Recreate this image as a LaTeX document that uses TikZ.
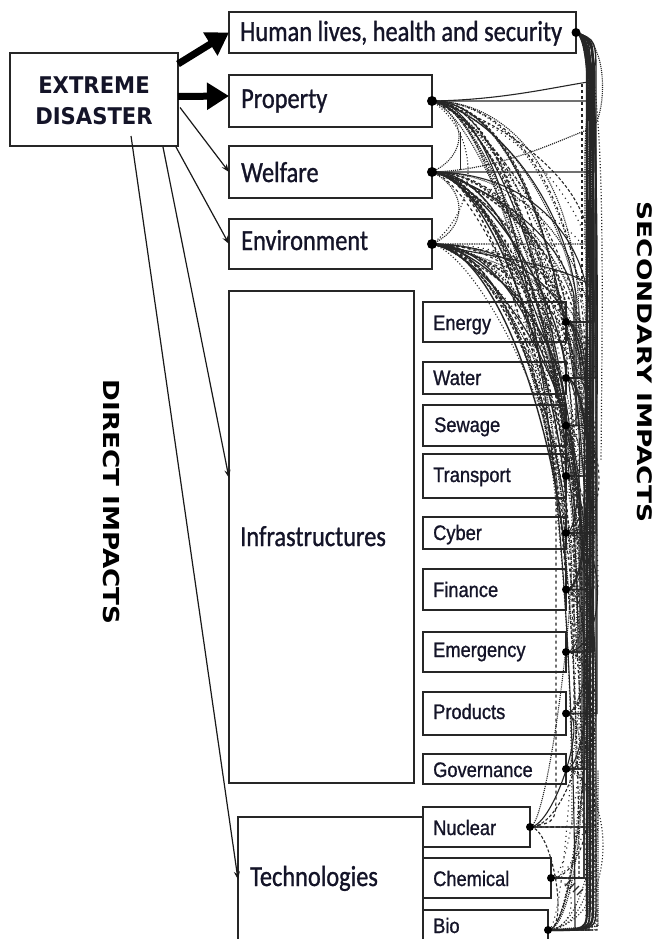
\documentclass[tikz,border=0pt]{standalone}
\usepackage{fontspec}
\setmainfont{Carlito}
\newfontfamily\mainf[FakeStretch=0.84,FakeBold=1]{Carlito}
\newfontfamily\smallf[FakeStretch=0.87,FakeBold=1]{Liberation Sans}
\newfontfamily\boldf[FakeStretch=0.92]{DejaVu Sans}
\newfontfamily\sidef[FakeStretch=1.19]{DejaVu Sans}
\newfontfamily\sideg[FakeStretch=1.32]{DejaVu Sans}
\usetikzlibrary{arrows.meta,calc}
\definecolor{txt}{RGB}{20,20,40}
\begin{document}
\begin{tikzpicture}[x=1pt,y=-1pt,
  box/.style={draw=black!85, line width=1.5pt, inner sep=0pt, outer sep=0pt, anchor=north west},
  lbl/.style={anchor=base west, inner sep=0pt, text=txt, font=\mainf\fontsize{29}{31}\selectfont},
  slbl/.style={anchor=base west, inner sep=0pt, text=txt, font=\smallf\fontsize{21}{23}\selectfont},
  side/.style={rotate=-90, inner sep=0pt, text=black, font=\sidef\bfseries\fontsize{22}{24}\selectfont},
  thick arrow/.style={line width=7pt, black, -{Triangle[length=22pt,width=26pt]}},
  thin arrow/.style={line width=1.2pt, black!90, -{Stealth[length=8pt,width=6pt]}},
  sec/.style={line width=1.1pt, black!85},
  pat/.code={\ifcase#1\relax\tikzset{solid}\or\tikzset{densely dotted}\or\tikzset{dashed}\or\tikzset{dotted}\or\tikzset{densely dashed}\or\tikzset{loosely dotted}\else\tikzset{solid}\fi},
]
\useasboundingbox (0,0) rectangle (658,939);
\fill[white] (0,0) rectangle (658,939);

% ---------- boxes ----------
\node[box,minimum width=168pt,minimum height=93pt] (ED) at (10,53) {};
\node[box,minimum width=347pt,minimum height=41pt] (H) at (229,12) {};
\node[box,minimum width=203pt,minimum height=52pt] (P) at (229,75) {};
\node[box,minimum width=203pt,minimum height=52pt] (W) at (229,146) {};
\node[box,minimum width=203pt,minimum height=50pt] (En) at (229,219) {};
\node[box,minimum width=185pt,minimum height=492pt] (Inf) at (229,291) {};
\node[box,minimum width=185pt,minimum height=135pt] (Tech) at (238,817) {};
\node[box,minimum width=143pt,minimum height=40pt] (Energy) at (423,302) {};
\node[box,minimum width=143pt,minimum height=32pt] (Water) at (423,362) {};
\node[box,minimum width=143pt,minimum height=41pt] (Sewage) at (423,405) {};
\node[box,minimum width=143pt,minimum height=44pt] (Transport) at (423,454) {};
\node[box,minimum width=143pt,minimum height=32pt] (Cyber) at (423,517) {};
\node[box,minimum width=143pt,minimum height=41pt] (Finance) at (423,569) {};
\node[box,minimum width=143pt,minimum height=40pt] (Emergency) at (423,632) {};
\node[box,minimum width=143pt,minimum height=43pt] (Products) at (423,692) {};
\node[box,minimum width=143pt,minimum height=30pt] (Governance) at (423,754) {};
\node[box,minimum width=107pt,minimum height=40pt] (Nuclear) at (423,807) {};
\node[box,minimum width=128pt,minimum height=40pt] (Chemical) at (423,858) {};
\node[box,minimum width=125pt,minimum height=40pt] (Bio) at (423,910) {};

% ---------- labels ----------
\node[align=center, inner sep=0pt, text=txt, font=\boldf\bfseries\fontsize{23}{31}\selectfont] (EDt) at (94,101) {EXTREME\\DISASTER};
\node[lbl] (Ht) at (240,41) {Human lives, health and security};
\node[lbl] (Pt) at (241,108) {Property};
\node[lbl] (Wt) at (241,182) {Welfare};
\node[lbl] (Ent) at (241,250) {Environment};
\node[lbl] (Inft) at (240,546) {Infrastructures};
\node[lbl] (Techt) at (250,886) {Technologies};
\node[slbl] (Energyt) at (433,330) {Energy};
\node[slbl] (Watert) at (433,385) {Water};
\node[slbl] (Sewaget) at (434,432) {Sewage};
\node[slbl] (Transportt) at (433,482) {Transport};
\node[slbl] (Cybert) at (433,540) {Cyber};
\node[slbl] (Financet) at (433,597) {Finance};
\node[slbl] (Emergencyt) at (433,657) {Emergency};
\node[slbl] (Productst) at (433,719) {Products};
\node[slbl] (Governancet) at (433,777) {Governance};
\node[slbl] (Nucleart) at (433,835) {Nuclear};
\node[slbl] (Chemicalt) at (433,886) {Chemical};
\node[slbl] (Biot) at (433,933) {Bio};
\node[side] (DI) at (112,502) {DIRECT IMPACTS};
\node[side, font=\sideg\bfseries\fontsize{20}{24}\selectfont] (SI) at (645,362) {SECONDARY IMPACTS};

% ---------- direct impacts ----------
\draw[thick arrow] ($(ED.north east)+(0,11)$) -- (H.west);
\draw[thick arrow] ($(ED.east)+(0,-3)$) -- ($(P.west)+(0,-5)$);
\draw[thin arrow] ($(ED.east)+(2,8)$) -- (W.west);
\draw[thin arrow] ($(ED.south east)+(-2,1)$) -- (En.west);
\draw[thin arrow] ($(ED.south east)+(-15,1)$) -- ($(Inf.north west)+(0,187)$);
\draw[thin arrow] ($(ED.south)+(37,-10)$) -- ($(Tech.west)+(0,-5)$);

% ---------- secondary impacts ----------
% fans from property, welfare, environment
\foreach \s/\sy/\off in {P/101/0, W/172/1, En/244/2} {
  \foreach \t/\ty [count=\i] in {Energy/322, Water/378, Sewage/425.5, Transport/476, Cyber/533, Finance/589.5, Emergency/652, Products/713.5, Governance/769, Nuclear/827, Chemical/878, Bio/930} {
    \pgfmathtruncatemacro\k{mod(\i+\off*5,6)}
    \pgfmathsetmacro\bx{572+mod(\i*7+\off*11,27)}
    \draw[sec, pat=\k] (\s.east) .. controls ({432+0.6*(\bx-432)},\sy) and (\bx,{\sy+0.42*(\ty-\sy)}) .. (\bx,\ty) -- (\t.east);
  }
}
% second, tighter fans
\foreach \s/\sy/\off in {P/101/3, W/172/4, En/244/5} {
  \foreach \t/\ty [count=\i] in {Energy/322, Water/378, Sewage/425.5, Transport/476, Cyber/533, Finance/589.5, Emergency/652, Governance/769, Chemical/878, Bio/930} {
    \pgfmathtruncatemacro\k{mod(\i+\off,6)}
    \pgfmathsetmacro\bx{574+mod(\i*5+\off*3,22)}
    \pgfmathsetmacro\cf{0.3+0.04*mod(\i,5)}
    \draw[sec, pat=\k] (\s.east) .. controls ({432+\cf*(\bx-432)},{\sy+12}) and ({\bx-12},{\sy+0.3*(\ty-\sy)}) .. (\bx,{\sy+0.6*(\ty-\sy)}) -- (\bx,\ty) -- (\t.east);
  }
}
% third, wide arcs
\foreach \s/\sy/\off in {P/101/1, W/172/2, En/244/0} {
  \foreach \t/\ty [count=\i] in {Energy/322, Water/378, Sewage/425.5, Transport/476, Cyber/533, Finance/589.5} {
    \pgfmathtruncatemacro\k{mod(\i*2+\off,6)}
    \pgfmathsetmacro\bx{566+mod(\i*3+\off*4,12)}
    \draw[sec, pat=\k, line width=1.4pt] (\s.east) .. controls ({470+\i*6},{\sy+4}) and ({\bx-4},{\ty-60-\i*8}) .. (\t.east);
  }
}
% human lives bus
\foreach \t/\ty [count=\i] in {P/101, W/172, En/244, Energy/322, Water/378, Sewage/425.5, Transport/476, Cyber/533, Finance/589.5, Emergency/652, Products/713.5, Governance/769, Nuclear/827, Chemical/878, Bio/930} {
  \pgfmathtruncatemacro\k{mod(\i,3)==0 ? 1 : 0}
  \pgfmathsetmacro\bx{584+mod(\i*5,14)}
  \draw[sec, line width=1.4pt, pat=\k] (H.east) .. controls (600,40) and (\bx,{35+0.3*(\ty-35)}) .. (\bx,{35+0.6*(\ty-35)}) -- (\bx,\ty) -- (\t.east);
}
% dense vertical bundle
\foreach \bx/\w in {587/2.2, 590/1.6, 593/2.4, 596/1.4} {
  \draw[sec, line width=\w pt] (H.east) .. controls (\bx,40) .. (\bx,80) -- (\bx,905) .. controls (\bx,930) .. (Bio.east);
}
% inter-infrastructure links
\foreach \a/\b [count=\i] in {Energy/Sewage, Energy/Cyber, Energy/Emergency, Energy/Bio, Water/Transport, Water/Finance, Water/Products, Sewage/Cyber, Sewage/Governance, Transport/Finance, Transport/Chemical, Cyber/Emergency, Cyber/Nuclear, Finance/Products, Finance/Bio, Emergency/Governance, Emergency/Chemical, Products/Nuclear, Products/Bio, Governance/Chemical, Governance/Bio, Nuclear/Bio, Chemical/Bio, Water/Governance, Sewage/Bio, Energy/Water, Transport/Emergency, Cyber/Products, Energy/Transport, Water/Cyber, Sewage/Finance, Finance/Emergency, Products/Governance, Emergency/Nuclear, Transport/Bio, Energy/Finance} {
  \pgfmathtruncatemacro\k{mod(\i,6)}
  \pgfmathsetmacro\dx{18+mod(\i*7,30)}
  \draw[sec, pat=\k] (\a.east) .. controls +(\dx,0) and +(\dx,0) .. (\b.east);
}
% local links on the left column
\draw[sec, densely dotted] (P.east) .. controls (468,118) and (468,155) .. (W.east);
\draw[sec, densely dotted] (W.east) .. controls (468,190) and (468,228) .. (En.east);
\draw[sec, dotted] (P.east) .. controls (482,135) and (478,210) .. (En.east);
\draw[sec, thin] (W.east) ++(28,-40) -- ++(0,38);
\coordinate (b1) at (588,82);
\coordinate (b2) at (592,128);
\coordinate (d1) at (582,84);
\coordinate (d2) at (582,300);
\draw[sec] (P.east) .. controls (500,100) and (550,88) .. (b1);
\draw[sec, densely dotted, line width=1.2pt] (W.east) .. controls (500,170) and (555,142) .. (b2);
\draw[sec, dashed, line width=1.5pt] (d1) -- (d2);
% long dashed to nuclear
\draw[sec, dashed, line width=1.2pt] (P.east) .. controls (520,140) and (556,250) .. (556,420) -- (556,790) .. controls (556,822) .. (Nuclear.east);
% outer dotted loops
\coordinate (o1) at (598,926);
\coordinate (o2) at (598,770);
\draw[sec, densely dotted, line width=1.2pt] (Bio.east) -- (o1) -- (o2);
\draw[sec, dotted] (Governance.east) .. controls (618,790) and (618,920) .. (Bio.east);
\draw[sec, dotted] (Products.east) .. controls (612,740) and (610,930) .. (Bio.east);
\draw[sec, densely dotted] (H.east) .. controls (612,40) and (605,120) .. (b2);
\draw[sec, dotted, line width=1.2pt] (H.east) .. controls (606,45) and (603,250) .. (601,460);
\foreach \j in {0,1,2,3} {
  \draw[sec, line width=1.2pt] ($(Chemical.east)+(14+4*\j,8+3*\j)$) -- ++(6,-6);
}
% blobs at converging ends
\foreach \n in {P,W,En} { \fill[black] (\n.east) circle (5); }
\fill[black] (H.east) circle (4.5);
\foreach \n in {Energy,Water,Sewage,Transport,Cyber,Finance,Emergency,Products,Governance,Nuclear,Chemical,Bio} { \fill[black] (\n.east) circle (4); }
\end{tikzpicture}
\end{document}
